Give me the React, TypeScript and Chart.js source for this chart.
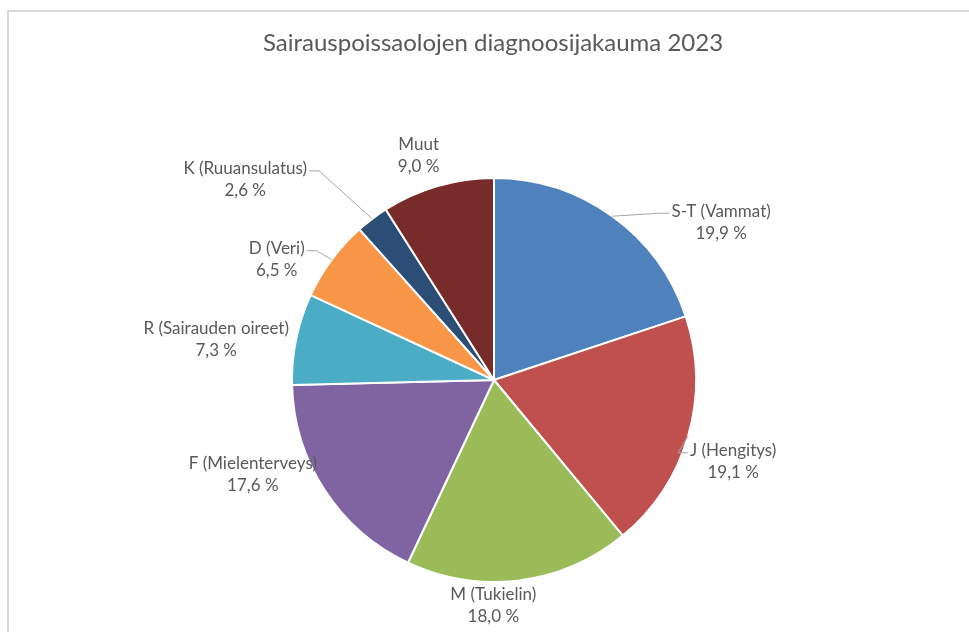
import React, { useEffect, useRef } from "react";
import { Chart, registerables } from "chart.js";

Chart.register(...registerables);

const TITLE = "Sairauspoissaolojen diagnoosijakauma 2023";
const categories = [
  "S-T (Vammat)",
  "J (Hengitys)",
  "M (Tukielin)",
  "F (Mielenterveys)",
  "R (Sairauden oireet)",
  "D (Veri)",
  "K (Ruuansulatus)",
  "Muut",
];
const shares = [19.9, 19.1, 18.0, 17.6, 7.3, 6.5, 2.6, 9.0];
const colors = ["#4F81BD", "#C0504D", "#9BBB59", "#8064A2", "#4BACC6", "#F79646", "#2C4D75", "#772C2A"];

// label placement relative to the slice's outer mid-point (layout only)
const labelOffsets: [number, number][] = [
  [109, 6],
  [45, 26],
  [-26, 25],
  [-72, -16],
  [-80, 0],
  [-55, 0],
  [-127, -39],
  [-19, -31],
];
const leaders = [true, true, false, false, false, true, true, false];

const FONT = "Lato, Carlito, 'Open Sans', sans-serif";
const TEXT = "#595959";

const fmt = (v: number) => v.toFixed(1).replace(".", ",") + " %";

const labelPlugin = {
  id: "sliceLabels",
  afterDatasetsDraw(chart: any) {
    const ctx = chart.ctx as CanvasRenderingContext2D;
    const meta = chart.getDatasetMeta(0);
    const area = chart.chartArea;
    ctx.save();
    // title
    ctx.fillStyle = TEXT;
    ctx.font = `24px ${FONT}`;
    ctx.textAlign = "center";
    ctx.textBaseline = "middle";
    ctx.fillText(TITLE, (area.left + area.right) / 2 - 1, 43);

    ctx.font = `17px ${FONT}`;
    meta.data.forEach((arc: any, i: number) => {
      const p = arc.getProps(["x", "y", "startAngle", "endAngle", "outerRadius"], true);
      const mid = (p.startAngle + p.endAngle) / 2;
      const px = p.x + Math.cos(mid) * p.outerRadius;
      const py = p.y + Math.sin(mid) * p.outerRadius;
      const [dx, dy] = labelOffsets[i];
      const lx = px + dx;
      const ly = py + dy;
      const l1 = categories[i];
      const l2 = fmt(shares[i]);
      const y1 = ly - 11;
      const y2 = ly + 11;
      ctx.fillStyle = TEXT;
      ctx.textAlign = "center";
      ctx.textBaseline = "middle";
      ctx.fillText(l1, lx, y1);
      ctx.fillText(l2, lx, y2);
      if (leaders[i]) {
        const w = ctx.measureText(l1).width;
        const side = px > lx ? 1 : -1;
        const edge = lx + side * (w / 2 + 2);
        const ky = y1 + 2;
        const kx = edge + side * 10;
        ctx.strokeStyle = "#A6A6A6";
        ctx.lineWidth = 1;
        ctx.beginPath();
        ctx.moveTo(px, py);
        ctx.lineTo(kx, ky);
        ctx.lineTo(edge, ky);
        ctx.stroke();
      }
    });
    ctx.restore();
  },
};

export default function App() {
  const ref = useRef<HTMLCanvasElement>(null);
  useEffect(() => {
    if (!ref.current) return;
    const chart = new Chart(ref.current, {
      type: "pie",
      data: {
        labels: categories,
        datasets: [
          {
            data: shares,
            backgroundColor: colors,
            borderColor: "#FFFFFF",
            borderWidth: 2,
          },
        ],
      },
      options: {
        responsive: false,
        animation: false,
        layout: { padding: { top: 177, bottom: 49, left: 291, right: 272 } },
        plugins: {
          legend: { display: false },
          tooltip: { enabled: false },
          title: { display: false },
        },
      },
      plugins: [labelPlugin],
    });
    return () => chart.destroy();
  }, []);
  return (
    <div style={{ position: "absolute", left: 0, top: 0, width: 969, height: 632, overflow: "hidden", background: "#fff" }}>
      <div
        style={{
          position: "absolute",
          left: 7,
          top: 10,
          width: 1000,
          height: 700,
          border: "2px solid #D9D9D9",
        }}
      />
      <canvas ref={ref} width={969} height={632} style={{ position: "absolute", left: 0, top: 0, display: "block" }} />
    </div>
  );
}
